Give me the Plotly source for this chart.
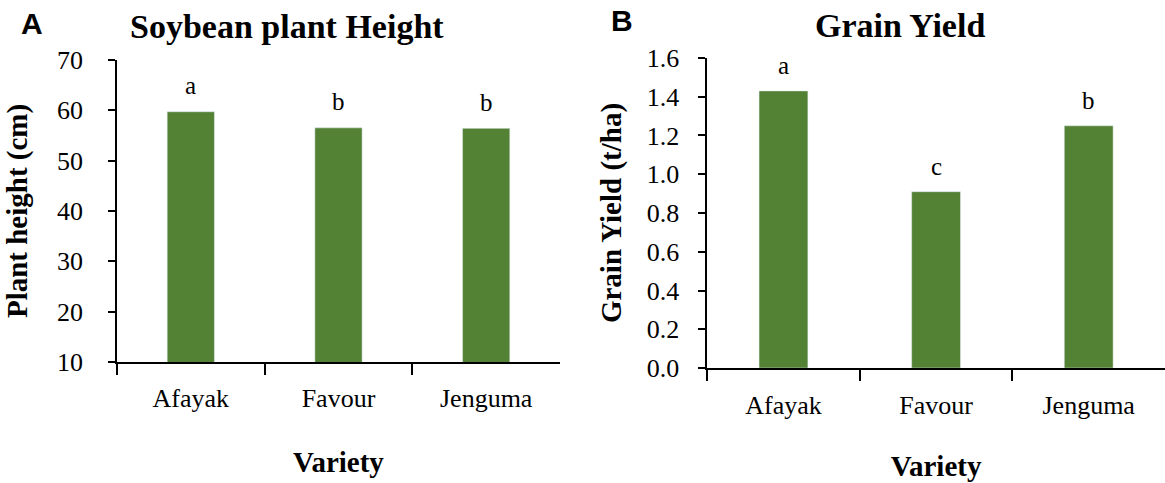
import plotly.graph_objects as go

varieties = ["Afayak", "Favour", "Jenguma"]
height_cm = [59.7, 56.5, 56.4]
height_letters = ["a", "b", "b"]
yield_tha = [1.43, 0.91, 1.25]
yield_letters = ["a", "c", "b"]

GREEN = "#548235"
SERIF = "Times New Roman, Liberation Serif, Times, serif"
SANS = "Liberation Sans, Arial, sans-serif"

fig = go.Figure()
fig.add_trace(go.Bar(x=varieties, y=height_cm, marker_color=GREEN, width=0.32,
                     xaxis="x", yaxis="y", showlegend=False))
fig.add_trace(go.Bar(x=varieties, y=yield_tha, marker_color=GREEN, width=0.32,
                     xaxis="x2", yaxis="y2", showlegend=False))

for v, h, t in zip(varieties, height_cm, height_letters):
    fig.add_annotation(x=v, y=h, text=t, xref="x", yref="y", showarrow=False,
                       xanchor="center", yanchor="middle",
                       yshift=26, font=dict(family=SERIF, size=25, color="black"))
for v, h, t in zip(varieties, yield_tha, yield_letters):
    fig.add_annotation(x=v, y=h, text=t, xref="x2", yref="y2", showarrow=False,
                       xanchor="center", yanchor="middle",
                       yshift=25, font=dict(family=SERIF, size=25, color="black"))

tick_font = dict(family=SERIF, size=26, color="black")
title_font = dict(family=SERIF, size=29, color="black")

def axis(**kw):
    d = dict(showline=True, linecolor="black", linewidth=1.5, ticks="outside",
             tickcolor="black", tickwidth=1.5, showgrid=False, zeroline=False,
             automargin=False, tickfont=tick_font)
    d.update(kw)
    return d

fig.update_layout(
    width=1165, height=483, margin=dict(l=0, r=0, t=0, b=0),
    font=dict(family=SERIF, color="black", size=26),
    plot_bgcolor="white", paper_bgcolor="white",
    xaxis=axis(domain=[0.1004, 0.4807], anchor="y", tickson="boundaries", ticklen=11,
               ticklabelstandoff=12,
               title=dict(text="<b>Variety</b>", font=title_font, standoff=40)),
    yaxis=axis(domain=[0.2505, 0.876], anchor="x", range=[10, 70], dtick=10, ticklen=7,
               ticklabelstandoff=20,
               title=dict(text="<b>Plant height (cm)</b>", font=title_font, standoff=21)),
    xaxis2=axis(domain=[0.607, 1.0], anchor="y2", tickson="boundaries", ticklen=11,
                ticklabelstandoff=13,
                title=dict(text="<b>Variety</b>", font=title_font, standoff=37)),
    yaxis2=axis(domain=[0.238, 0.880], anchor="x2", range=[0, 1.6], dtick=0.2, tickformat=".1f", ticklen=7,
                ticklabelstandoff=14,
                title=dict(text="<b>Grain Yield (t/ha)</b>", font=title_font, standoff=17)),
)

fig.add_annotation(text="<b>Soybean plant Height</b>", xref="paper", yref="paper",
                   x=287 / 1165, y=1 - 27 / 483, showarrow=False,
                   xanchor="center", yanchor="middle",
                   font=dict(family=SERIF, size=34, color="black"))
fig.add_annotation(text="<b>Grain Yield</b>", xref="paper", yref="paper",
                   x=900 / 1165, y=1 - 25 / 483, showarrow=False,
                   xanchor="center", yanchor="middle",
                   font=dict(family=SERIF, size=34, color="black"))
fig.add_annotation(text="<b>A</b>", xref="paper", yref="paper",
                   x=32 / 1165, y=1 - 23 / 483, showarrow=False,
                   xanchor="center", yanchor="middle",
                   font=dict(family=SANS, size=30, color="black"))
fig.add_annotation(text="<b>B</b>", xref="paper", yref="paper",
                   x=622 / 1165, y=1 - 21 / 483, showarrow=False,
                   xanchor="center", yanchor="middle",
                   font=dict(family=SANS, size=30, color="black"))

fig.write_html("out.html")
